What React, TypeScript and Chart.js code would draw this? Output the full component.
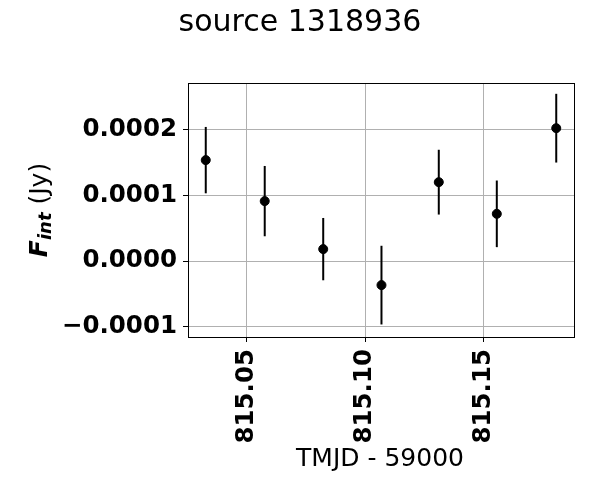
import React, { useEffect, useRef } from "react";
import { Chart, registerables } from "chart.js";
Chart.register(...registerables);

const titleText = "source 1318936";
const xLabel = "TMJD - 59000";
const tmjd = [815.0327, 815.0576, 815.0823, 815.1069, 815.1311, 815.1556, 815.1807];
const flux = [0.000154, 0.0000915, 0.0000183, -0.0000366, 0.0001204, 0.0000721, 0.0002027];
const fluxErr = [0.0000506, 0.0000536, 0.0000475, 0.00006, 0.0000494, 0.0000508, 0.0000524];
const xTicks = [815.05, 815.1, 815.15];
const yTicks = [-0.0001, 0, 0.0001, 0.0002];
const xRange = [815.0252, 815.1882];
const yRange = [-0.0001157, 0.0002716];

const FONT = "'DejaVu Sans', sans-serif";

const errorBarPlugin = {
  id: "errorBars",
  beforeDatasetsDraw(chart: any) {
    const ctx = chart.ctx;
    const xs = chart.scales.x;
    const ys = chart.scales.y;
    ctx.save();
    ctx.strokeStyle = "#000";
    ctx.lineWidth = 2;
    for (let i = 0; i < tmjd.length; i++) {
      const px = xs.getPixelForValue(tmjd[i]);
      const top = ys.getPixelForValue(flux[i] + fluxErr[i]);
      const bot = ys.getPixelForValue(flux[i] - fluxErr[i]);
      ctx.beginPath();
      ctx.moveTo(px, top);
      ctx.lineTo(px, bot);
      ctx.stroke();
    }
    ctx.restore();
  },
};

const decorPlugin = {
  id: "decor",
  afterDraw(chart: any) {
    const ctx = chart.ctx;
    const a = chart.chartArea;
    ctx.save();
    ctx.strokeStyle = "#000";
    ctx.lineWidth = 1;
    ctx.strokeRect(a.left + 0.5, a.top + 0.5, a.right - a.left, a.bottom - a.top);
    // title
    ctx.fillStyle = "#000";
    ctx.textAlign = "center";
    ctx.textBaseline = "middle";
    ctx.font = `30px ${FONT}`;
    ctx.fillText(titleText, 300, 23);
    // x label
    ctx.font = `25px ${FONT}`;
    ctx.fillText(xLabel, 380, 459);
    // y label
    ctx.translate(40, 210);
    ctx.rotate(-Math.PI / 2);
    ctx.textAlign = "left";
    const f1 = `italic bold 25px ${FONT}`;
    const f2 = `italic bold 18px ${FONT}`;
    const f3 = `25px ${FONT}`;
    ctx.font = f1;
    const w1 = ctx.measureText("F").width;
    ctx.font = f2;
    const w2 = ctx.measureText("int").width;
    ctx.font = f3;
    const w3 = ctx.measureText(" (Jy)").width;
    let x0 = -(w1 + w2 + w3) / 2;
    ctx.font = f1;
    ctx.fillText("F", x0, 0);
    x0 += w1;
    ctx.font = f2;
    ctx.fillText("int", x0, 6);
    x0 += w2;
    ctx.font = f3;
    ctx.fillText(" (Jy)", x0, 0);
    ctx.restore();
  },
};

export default function App() {
  const ref = useRef<HTMLCanvasElement>(null);
  useEffect(() => {
    if (!ref.current) return;
    const chart = new Chart(ref.current, {
      type: "scatter",
      data: {
        datasets: [
          {
            data: tmjd.map((x, i) => ({ x, y: flux[i] })),
            backgroundColor: "#000",
            borderColor: "#000",
            pointRadius: 4.5,
            pointHoverRadius: 4.5,
            showLine: false,
          },
        ],
      },
      options: {
        animation: false,
        responsive: false,
        maintainAspectRatio: false,
        layout: { padding: { left: 0, top: 83, right: 26, bottom: 0 } },
        plugins: { legend: { display: false }, tooltip: { enabled: false }, title: { display: false } },
        scales: {
          x: {
            type: "linear",
            min: xRange[0],
            max: xRange[1],
            afterBuildTicks: (s: any) => {
              s.ticks = xTicks.map((v) => ({ value: v }));
            },
            afterFit: (s: any) => {
              s.height = 163;
            },
            border: { display: false },
            grid: { color: "#b0b0b0", lineWidth: 1, drawTicks: true, tickLength: 5, tickColor: "#000" },
            ticks: {
              minRotation: 90,
              maxRotation: 90,
              autoSkip: false,
              padding: 7,
              color: "#000",
              font: { family: FONT, size: 24.5, weight: "bold" },
              callback: (v: any) => Number(v).toFixed(2),
            },
          },
          y: {
            type: "linear",
            min: yRange[0],
            max: yRange[1],
            afterBuildTicks: (s: any) => {
              s.ticks = yTicks.map((v) => ({ value: v }));
            },
            afterFit: (s: any) => {
              s.width = 188;
            },
            border: { display: false },
            grid: { color: "#b0b0b0", lineWidth: 1, drawTicks: true, tickLength: 5, tickColor: "#000" },
            ticks: {
              autoSkip: false,
              padding: 6,
              color: "#000",
              font: { family: FONT, size: 24.5, weight: "bold" },
              callback: (v: any) => Number(v).toFixed(4).replace("-", "\u2212"),
            },
          },
        },
      },
      plugins: [errorBarPlugin, decorPlugin],
    } as any);
    return () => chart.destroy();
  }, []);
  return (
    <div style={{ position: "fixed", left: 0, top: 0, width: 600, height: 500, background: "#fff" }}>
      <canvas ref={ref} width={600} height={500} style={{ width: 600, height: 500 }} />
    </div>
  );
}
